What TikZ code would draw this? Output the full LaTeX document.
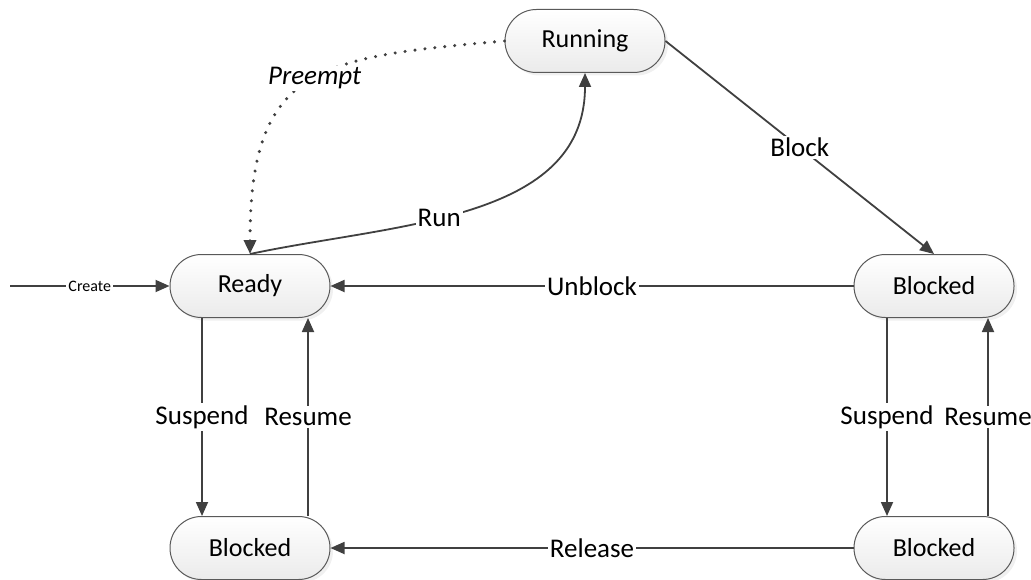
\documentclass[tikz,border=0pt]{standalone}
\usepackage{fontspec}
\setmainfont{Carlito}
\usetikzlibrary{positioning,arrows.meta,shadows}

\begin{document}
\begin{tikzpicture}[x=0.5pt,y=0.5pt]
        \tikzset{State/.style={%
                shape=rectangle,%
                rounded corners=15.7pt,%
                draw=black!65,%
                line width=0.5pt,%
                top color=white,%
                bottom color=black!8,%
                minimum width=80pt,%
                minimum height=31.5pt,%
                font=\fontsize{13}{15}\selectfont,%
                drop shadow={opacity=0.12,shadow xshift=1.5pt,shadow yshift=-1.5pt},%
            }}
        \tikzset{Arrow/.style={%
                draw=black!75,%
                line width=0.9pt,%
                -{Triangle[length=7pt,width=6pt]},%
            }}
        \tikzset{Label/.style={%
                fill=white,%
                inner sep=1pt,%
                font=\fontsize{13.5}{15}\selectfont,%
            }}
        \useasboundingbox (0,0) rectangle (1031,579);

        \node[State] (ready) at (250,293) {Ready};
        \node[State, right=261.5pt of ready] (blocked) {Blocked};
        \node[State, below=99pt of ready] (suspready) {Blocked};
        \node[State, below=99pt of blocked] (suspblocked) {Blocked};
        \node[State] (running) at (585,538) {Running};
        \coordinate (new) at (10,293);

        \path (new) edge[Arrow] node[Label, font=\fontsize{8}{10}\selectfont]{Create} (ready);
        \path (blocked) edge[Arrow] node[Label]{Unblock} (ready);
        \path (suspblocked) edge[Arrow] node[Label]{Release} (suspready);
        \path (running.east) edge[Arrow] node[Label]{Block} (blocked.north);
        \path (ready.north) edge[Arrow, out=12, in=-90] node[Label, pos=0.42]{Run} (running.south);
        \path (running.west) edge[Arrow, dash pattern=on 0pt off 5pt, line cap=round, line width=1.7pt, out=185, in=90, looseness=1.45]
            node[Label, pos=0.47, font=\itshape\fontsize{13.5}{15}\selectfont]{Preempt} (ready.north);
        \path ([xshift=-24pt]ready.south) edge[Arrow] node[Label]{Suspend} ([xshift=-24pt]suspready.north);
        \path ([xshift=29pt]suspready.north) edge[Arrow] node[Label]{Resume} ([xshift=29pt]ready.south);
        \path ([xshift=-23.5pt]blocked.south) edge[Arrow] node[Label]{Suspend} ([xshift=-23.5pt]suspblocked.north);
        \path ([xshift=27pt]suspblocked.north) edge[Arrow] node[Label]{Resume} ([xshift=27pt]blocked.south);
\end{tikzpicture}
\end{document}
